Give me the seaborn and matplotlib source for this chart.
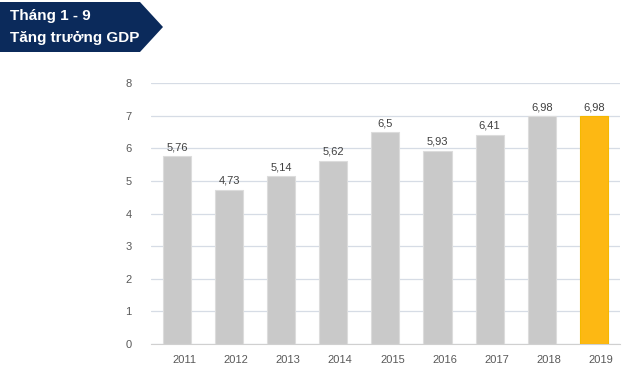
import numpy as np
import pandas as pd
import seaborn as sns
import matplotlib.pyplot as plt
import matplotlib.transforms as mtransforms
from matplotlib.patches import Polygon

years = ['2011', '2012', '2013', '2014', '2015', '2016', '2017', '2018', '2019']
gdp = [5.76, 4.73, 5.14, 5.62, 6.5, 5.93, 6.41, 6.98, 6.98]
labels = ['5,76', '4,73', '5,14', '5,62', '6,5', '5,93', '6,41', '6,98', '6,98']
colors = ['#C9C9C9'] * 8 + ['#FDB813']

sns.set_style('white')
plt.rcParams['font.family'] = ['Liberation Sans', 'DejaVu Sans']

df = pd.DataFrame({'year': years, 'gdp': gdp})

fig = plt.figure(figsize=(6.28, 3.67), dpi=100)
ax = fig.add_axes([0.2404, 0.0627, 0.7466, 0.7111])

sns.barplot(data=df, x='year', y='gdp', hue='year', palette=colors,
            legend=False, width=0.54, edgecolor='#DCDCDC', linewidth=0.8,
            saturation=1, ax=ax, zorder=3)
# keep the last bar's edge golden
ax.patches[-1].set_edgecolor('#F5B800')

for i, (v, t) in enumerate(zip(gdp, labels)):
    ax.text(i, v + 0.12, t, ha='center', va='bottom', fontsize=8, color='#404040')

ax.set_ylim(0, 8)
ax.set_xlim(-0.5, 8.5)
ax.set_yticks(range(9))
ax.yaxis.grid(True, color='#D6DCE5', linewidth=0.9, zorder=0)
ax.set_axisbelow(True)
ax.set_xlabel('')
ax.set_ylabel('')
for s in ['top', 'right', 'left']:
    ax.spines[s].set_visible(False)
ax.spines['bottom'].set_color('#D0D0D0')

# category boundary ticks, labels shifted a little to the right
ax.set_xticks(np.arange(9))
ax.set_xticklabels(years)
ax.set_xticks(np.arange(-0.5, 9, 1), minor=True)
ax.tick_params(axis='x', which='major', length=0, labelsize=8, labelcolor='#595959', pad=8)
ax.tick_params(axis='x', which='minor', length=5, color='#D0D0D0', direction='out')
ax.tick_params(axis='y', length=0, labelsize=8, labelcolor='#595959', pad=14)
offset = mtransforms.ScaledTranslation(7 / 100, 0, fig.dpi_scale_trans)
for lab in ax.get_xticklabels():
    lab.set_transform(lab.get_transform() + offset)

# title banner
W, H = 628, 367
pts = [(0, 2), (140, 2), (163, 27), (140, 52), (0, 52)]
banner = Polygon([(x / W, 1 - y / H) for x, y in pts], closed=True,
                 transform=fig.transFigure, facecolor='#0B2A5B', edgecolor='none')
fig.patches.append(banner)
fig.text(10 / W, 1 - 16 / H, 'Tháng 1 - 9', color='white', fontsize=11,
         fontweight='bold', va='center', ha='left')
fig.text(10 / W, 1 - 38 / H, 'Tăng trưởng GDP', color='white', fontsize=11,
         fontweight='bold', va='center', ha='left')

fig.savefig('out.png', dpi=100)
